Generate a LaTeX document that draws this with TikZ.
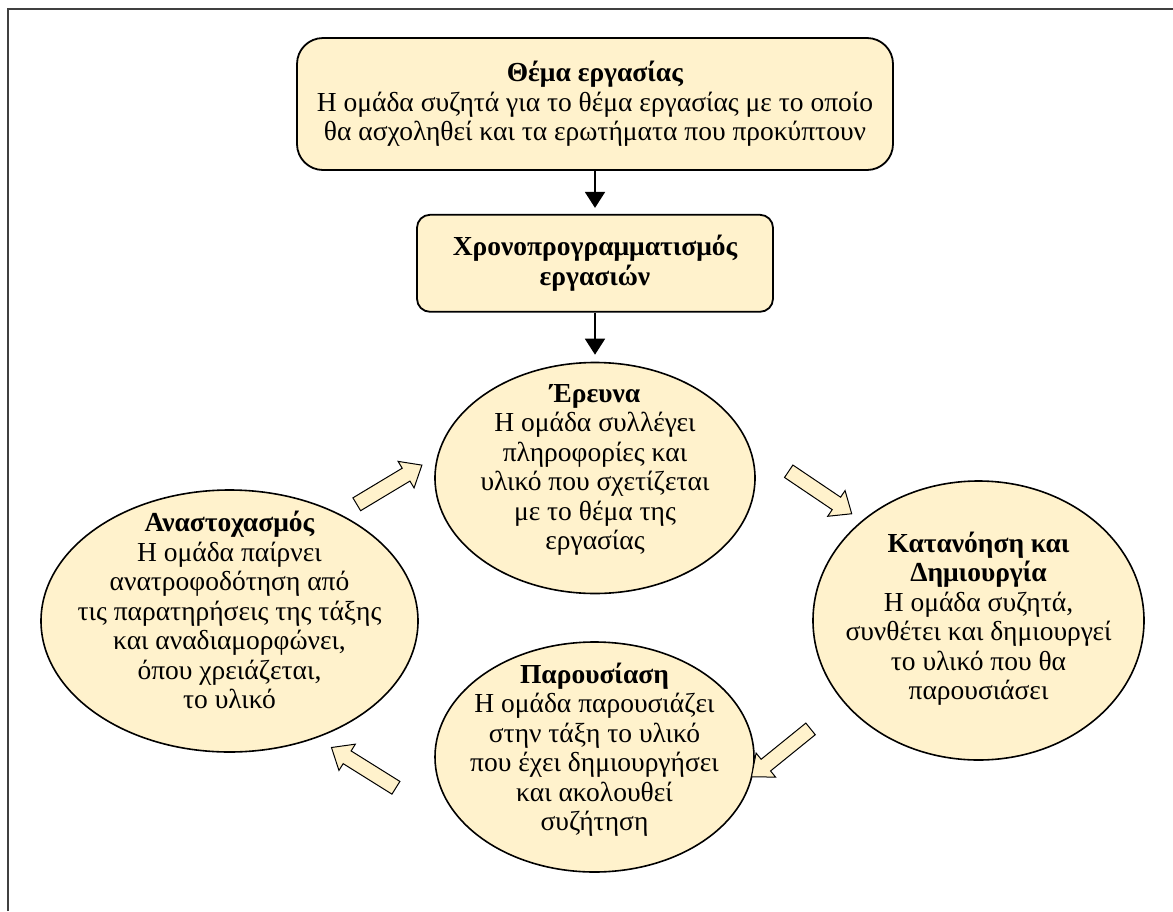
\documentclass[tikz,border=0pt]{standalone}
\usepackage{fontspec}
\setmainfont{Liberation Serif}
\usetikzlibrary{positioning,shapes.geometric,shapes.arrows,arrows.meta}
\definecolor{cream}{HTML}{FFF2CC}
\definecolor{framegray}{HTML}{404040}

\begin{document}
\begin{tikzpicture}[
  x=1pt,y=-1pt,
  every node/.style={font=\fontsize{27.5}{29.5}\selectfont},
  stepbox/.style={rectangle,draw,line width=1.8pt,fill=cream,align=center,inner sep=0pt},
  bubble/.style={ellipse,draw,line width=1.6pt,fill=cream,inner sep=0pt},
  txt/.style={align=center,inner sep=0pt},
  fat/.style={single arrow,draw,line width=1pt,fill=cream,inner sep=7pt,
    minimum height=76pt,single arrow head extend=8pt,
    single arrow tip angle=80,single arrow head indent=0pt},
  >={Triangle[width=20pt,length=16pt]}
]
\useasboundingbox (0,0) rectangle (1173,911);

% FRAME
\coordinate (fA) at (8,911);
\coordinate (fB) at (8,9);
\coordinate (fC) at (1173,9);
\draw[framegray,line width=2pt] (fA) -- (fB) -- (fC);

% BOXES
\node[stepbox,rounded corners=26pt,minimum width=596pt,minimum height=132pt] (topic) at (595,104)
  {\textbf{Θέμα εργασίας}\\Η ομάδα συζητά για το θέμα εργασίας με το οποίο\\θα ασχοληθεί και τα ερωτήματα που προκύπτουν};
\node[stepbox,rounded corners=13pt,minimum width=356pt,minimum height=97pt,font=\fontsize{27.5}{29.5}\selectfont\bfseries]
  (plan) [below=43pt of topic] {Χρονοπρογραμματισμός\\εργασιών};

% CYCLE
\node[bubble,minimum width=320pt,minimum height=231pt] (research) [below=49pt of plan] {};
\node[bubble,minimum width=331pt,minimum height=279pt] (create) at (978.5,620.5) {};
\node[bubble,minimum width=319pt,minimum height=230pt] (present) at (594.5,757) {};
\node[bubble,minimum width=377pt,minimum height=262pt] (reflect) at (229.5,621) {};

\node[txt] (research-t) at (595,470)
  {\textbf{Έρευνα}\\Η ομάδα συλλέγει\\πληροφορίες και\\υλικό που σχετίζεται\\με το θέμα της\\εργασίας};
\node[txt] (create-t) at (978.5,618.5)
  {\textbf{Κατανόηση και}\\\textbf{Δημιουργία}\\Η ομάδα συζητά,\\συνθέτει και δημιουργεί\\το υλικό που θα\\παρουσιάσει};
\node[txt] (present-t) at (594.5,749.5)
  {\textbf{Παρουσίαση}\\Η ομάδα παρουσιάζει\\στην τάξη το υλικό\\που έχει δημιουργήσει\\και ακολουθεί\\συζήτηση};
\node[txt] (reflect-t) at (229.5,610)
  {\textbf{Αναστοχασμός}\\Η ομάδα παίρνει\\ανατροφοδότηση από\\τις παρατηρήσεις της τάξης\\και αναδιαμορφώνει,\\όπου χρειάζεται,\\το υλικό};

% ARROWS
\draw[->,line width=1.8pt,shorten >=6pt] (topic) -- (plan);
\draw[->,line width=1.8pt,shorten >=7pt] (plan) -- (research);

\node[fat,rotate=31] (a1) at (385.5,487) {};
\node[fat,rotate=-34] (a2) at (816.5,490) {};
\node[fat,rotate=219] (a3) at (784.5,750) {};
\node[fat,rotate=148] (a4) at (367.5,770) {};

\end{tikzpicture}
\end{document}
